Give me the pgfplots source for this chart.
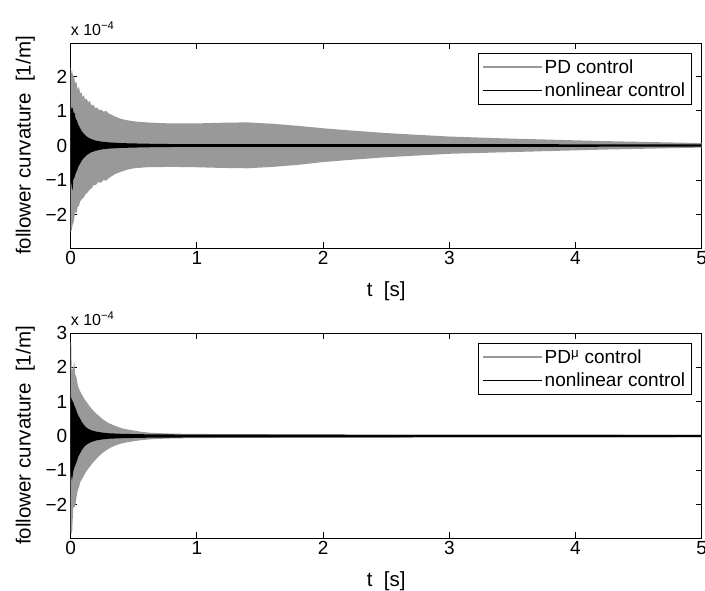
\documentclass[border=0pt]{standalone}
\usepackage{pgfplots}
\pgfplotsset{compat=1.18}
\usepackage{fontspec}
\setmainfont{Liberation Sans}
\definecolor{pdgray}{RGB}{153,153,153}

\pgfplotsset{
  curv/.style={
    scale only axis,
    width=631pt, height=205pt,
    xmin=0, xmax=5,
    xtick={0,1,2,3,4,5},
    tick align=inside,
    major tick length=6pt,
    axis line style={line width=1pt},
    every tick/.style={black, line width=1pt},
    /pgf/number format/assume math mode=true,
    tick label style={font=\fontsize{19}{21}\selectfont},
    xlabel={t\ \ [s]},
    ylabel={follower curvature\ \ [1/m]},
    label style={font=\fontsize{20.5}{23}\selectfont},
    x label style={at={(axis description cs:0.5,-0.21)}, anchor=center},
    y label style={at={(axis description cs:-0.072,0.5)}, anchor=center},
    legend image code/.code={\draw[#1] (0pt,0pt) -- (59pt,0pt);},
    legend cell align=left,
    legend style={at={(axis description cs:1,1)}, anchor=north east,
      xshift=-10pt, yshift=-10pt, draw=black, line width=1pt,
      font=\fontsize{19}{22}\selectfont, inner xsep=4pt, inner ysep=4pt,
      row sep=4pt},
    extra description/.code={
      \node[anchor=south west, inner sep=0pt, font=\fontsize{16}{18}\selectfont]
        at (axis description cs:0,1) [yshift=7pt] {x 10\textsuperscript{−4}};
    },
  }
}

\begin{document}
\begin{tikzpicture}

% ---------------- upper plot: PD control
\begin{axis}[curv, at={(0pt,0pt)}, anchor=north west,
  ymin=-2.97, ymax=2.97,
  ytick={-2,-1,0,1,2}, yticklabels={−2,−1,0,1,2}]

\addplot[fill=pdgray, draw=none, forget plot] coordinates {
  (0,2.26) (0.005,2.05) (0.01,2.2) (0.02,1.95) (0.025,2.05) (0.035,1.8)
  (0.045,1.85) (0.055,1.62) (0.065,1.7) (0.075,1.5) (0.085,1.55) (0.095,1.4)
  (0.105,1.45) (0.115,1.32) (0.125,1.36) (0.14,1.25) (0.15,1.3) (0.165,1.16)
  (0.18,1.18) (0.195,1.08) (0.21,1.1) (0.225,1.02) (0.24,1.04) (0.26,0.98)
  (0.28,1.0) (0.30,0.93) (0.32,0.9) (0.35,0.84) (0.40,0.77) (0.45,0.73)
  (0.50,0.70) (0.60,0.67) (0.70,0.65) (0.80,0.64) (1.0,0.64) (1.2,0.66)
  (1.4,0.67) (1.6,0.63) (1.8,0.57) (2.0,0.50) (2.2,0.44) (2.5,0.36)
  (2.8,0.30) (3.0,0.26) (3.4,0.21) (3.8,0.17) (4.2,0.13) (4.6,0.10) (5.0,0.07)
  (5.0,-0.06) (4.6,-0.09) (4.2,-0.12) (3.8,-0.16) (3.4,-0.20) (3.0,-0.24)
  (2.8,-0.28) (2.5,-0.34) (2.2,-0.42) (2.0,-0.48) (1.8,-0.56) (1.6,-0.62)
  (1.4,-0.66) (1.2,-0.65) (1.0,-0.63) (0.8,-0.62) (0.6,-0.63) (0.5,-0.66)
  (0.45,-0.70) (0.40,-0.76) (0.35,-0.83) (0.30,-0.95) (0.28,-1.02) (0.26,-1.0)
  (0.24,-1.08) (0.22,-1.06) (0.20,-1.14) (0.18,-1.15) (0.165,-1.25) (0.15,-1.28)
  (0.135,-1.36) (0.12,-1.4) (0.105,-1.5) (0.09,-1.55) (0.075,-1.62) (0.065,-1.75)
  (0.055,-1.78) (0.045,-1.98) (0.035,-1.9) (0.025,-2.2) (0.015,-2.3) (0.008,-2.45)
  (0,-2.5)
};

\addplot[fill=black, draw=none, forget plot] coordinates {
  (0,1.13) (0.01,1.05) (0.015,1.1) (0.025,0.92) (0.03,0.95) (0.04,0.78)
  (0.05,0.72) (0.06,0.6) (0.075,0.5) (0.09,0.4) (0.11,0.32) (0.13,0.25)
  (0.16,0.19) (0.2,0.14) (0.25,0.11) (0.3,0.09) (0.4,0.07) (0.5,0.06)
  (0.7,0.045) (1.0,0.04) (5.0,0.035)
  (5.0,-0.035) (1.0,-0.04) (0.7,-0.045) (0.5,-0.06) (0.4,-0.07) (0.3,-0.09)
  (0.25,-0.11) (0.2,-0.15) (0.16,-0.2) (0.13,-0.27) (0.11,-0.34) (0.09,-0.42)
  (0.075,-0.52) (0.06,-0.62) (0.05,-0.72) (0.04,-0.8) (0.03,-0.92) (0.02,-1.0)
  (0.015,-1.3) (0.01,-1.25) (0.005,-1.1) (0,-1.05)
};

\addlegendimage{pdgray, line width=1.5pt}
\addlegendentry{PD control}
\addlegendimage{black, line width=1.5pt}
\addlegendentry{nonlinear control}
\end{axis}

% ---------------- lower plot: PD^mu control
\begin{axis}[curv, at={(0pt,-290pt)}, anchor=north west,
  ymin=-2.97, ymax=3.0,
  ytick={-2,-1,0,1,2,3}, yticklabels={−2,−1,0,1,2,3}]

\addplot[fill=pdgray, draw=none, forget plot] coordinates {
  (0,2.75) (0.004,2.7) (0.008,1.9) (0.02,2.0) (0.028,2.16) (0.035,1.8)
  (0.045,1.72) (0.055,1.5) (0.065,1.38) (0.075,1.3) (0.09,1.2) (0.105,1.1)
  (0.12,1.02) (0.14,0.92) (0.16,0.82) (0.18,0.74) (0.2,0.66) (0.22,0.6)
  (0.25,0.5) (0.28,0.42) (0.31,0.36) (0.35,0.3) (0.4,0.23) (0.45,0.19)
  (0.5,0.16) (0.56,0.12) (0.65,0.09) (0.8,0.07) (1.0,0.06) (2.0,0.045) (5.0,0.035)
  (5.0,-0.035) (2.0,-0.045) (1.0,-0.06) (0.8,-0.07) (0.65,-0.09) (0.56,-0.12)
  (0.5,-0.15) (0.45,-0.18) (0.4,-0.22) (0.35,-0.28) (0.32,-0.33) (0.28,-0.42)
  (0.25,-0.5) (0.22,-0.6) (0.2,-0.68) (0.18,-0.76) (0.16,-0.85) (0.14,-0.95)
  (0.12,-1.05) (0.105,-1.15) (0.09,-1.25) (0.075,-1.35) (0.065,-1.5) (0.055,-1.6)
  (0.045,-1.8) (0.035,-2.08) (0.028,-2.05) (0.02,-2.1) (0.012,-2.76) (0.005,-2.85)
  (0,-2.8)
};

\addplot[fill=black, draw=none, forget plot] coordinates {
  (0,1.16) (0.01,1.05) (0.02,0.99) (0.03,0.88) (0.04,0.8) (0.05,0.68)
  (0.06,0.6) (0.075,0.5) (0.09,0.4) (0.11,0.3) (0.13,0.23) (0.16,0.17)
  (0.2,0.13) (0.25,0.1) (0.3,0.08) (0.4,0.065) (0.6,0.05) (1.0,0.04) (5.0,0.03)
  (5.0,-0.03) (1.0,-0.04) (0.6,-0.05) (0.4,-0.065) (0.3,-0.08) (0.25,-0.1)
  (0.2,-0.13) (0.16,-0.18) (0.13,-0.24) (0.11,-0.3) (0.09,-0.4) (0.075,-0.5)
  (0.06,-0.6) (0.05,-0.72) (0.04,-0.82) (0.03,-0.9) (0.02,-1.05) (0.01,-1.3)
  (0.005,-1.2) (0,-1.0)
};

\addlegendimage{pdgray, line width=1.5pt}
\addlegendentry{PD\textsuperscript{μ} control}
\addlegendimage{black, line width=1.5pt}
\addlegendentry{nonlinear control}
\end{axis}

\pgfresetboundingbox
\path (-70.7pt,43pt) rectangle (634.3pt,-547pt);
\end{tikzpicture}
\end{document}
